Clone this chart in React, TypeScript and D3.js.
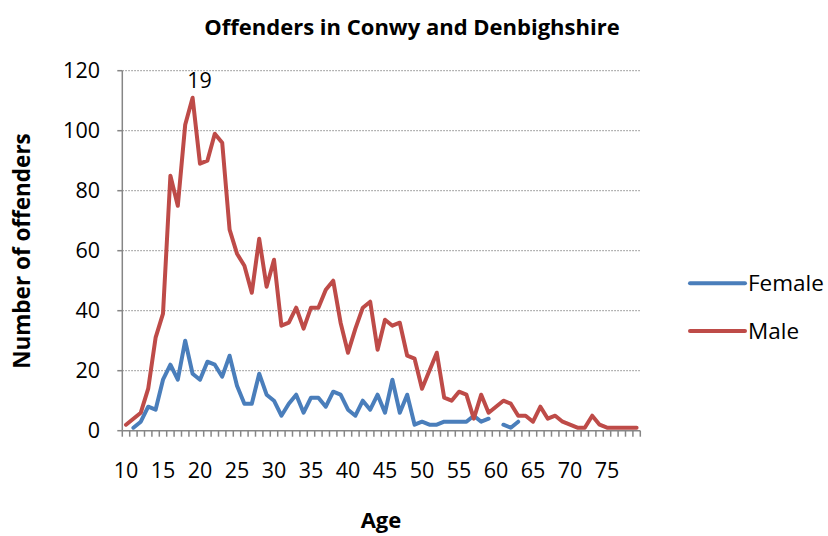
import React from "react";
import * as d3 from "d3";

const ages: number[] = d3.range(10, 80);

const male: number[] = [
  2, 4, 6, 14, 31, 39, 85, 75, 102, 111,
  89, 90, 99, 96, 67, 59, 55, 46, 64, 48,
  57, 35, 36, 41, 34, 41, 41, 47, 50, 36,
  26, 34, 41, 43, 27, 37, 35, 36, 25, 24,
  14, 20, 26, 11, 10, 13, 12, 4, 12, 6,
  8, 10, 9, 5, 5, 3, 8, 4, 5, 3,
  2, 1, 1, 5, 2, 1, 1, 1, 1, 1,
];

const female: (number | null)[] = [
  null, 1, 3, 8, 7, 17, 22, 17, 30, 19,
  17, 23, 22, 18, 25, 15, 9, 9, 19, 12,
  10, 5, 9, 12, 6, 11, 11, 8, 13, 12,
  7, 5, 10, 7, 12, 6, 17, 6, 12, 2,
  3, 2, 2, 3, 3, 3, 3, 5, 3, 4,
  null, 2, 1, 3, null, null, null, null, null, null,
  null, null, null, null, null, null, null, null, null, null,
];

const yTicks: number[] = [0, 20, 40, 60, 80, 100, 120];
const xLabelAges: number[] = [10, 15, 20, 25, 30, 35, 40, 45, 50, 55, 60, 65, 70, 75];
const labelledAge = 19;

const seriesNames = ["Female", "Male"];
const seriesColors = ["#4a7ebb", "#be4b48"];

const FONT = "'Open Sans', 'Liberation Sans', sans-serif";

export default function App() {
  const W = 828, H = 536;
  const left = 122.3, right = 640.3, top = 70.7, bottom = 430.7;
  const x = d3.scaleBand<number>().domain(ages).range([left, right]).padding(0);
  const cx = (a: number) => (x(a) as number) + x.bandwidth() / 2;
  const y = d3.scaleLinear().domain([0, 120]).range([bottom, top]);

  const line = d3
    .line<number | null>()
    .defined((d) => d !== null)
    .x((_, i) => cx(ages[i]))
    .y((d) => y(d as number));

  const series = [female, male];
  const boundaries = d3.range(0, ages.length + 1).map((i) => left + i * x.bandwidth());
  const gray = "#868686";
  const peakIdx = ages.indexOf(labelledAge);

  return (
    <svg width={W} height={H} style={{ position: "absolute", left: 0, top: 0, background: "#fff" }}>
      <text x={412} y={35} textAnchor="middle" fontFamily={FONT} fontWeight="bold" fontSize={22}>
        Offenders in Conwy and Denbighshire
      </text>

      {yTicks.filter((t) => t > 0).map((t) => (
        <line key={"g" + t} x1={left} x2={right} y1={y(t)} y2={y(t)} stroke={gray} strokeWidth={1} strokeDasharray="1.5,1.5" />
      ))}

      <line x1={left} x2={left} y1={top} y2={bottom} stroke={gray} strokeWidth={1.5} />
      {yTicks.map((t) => (
        <line key={"yt" + t} x1={left - 5} x2={left} y1={y(t)} y2={y(t)} stroke={gray} strokeWidth={1.5} />
      ))}
      {yTicks.map((t) => (
        <text key={"yl" + t} x={100} y={y(t)} dy="0.36em" textAnchor="end" fontFamily={FONT} fontSize={21.5}>
          {t}
        </text>
      ))}

      <line x1={left} x2={right} y1={bottom} y2={bottom} stroke={gray} strokeWidth={1.5} />
      {boundaries.map((b, i) => (
        <line key={"xt" + i} x1={b} x2={b} y1={bottom} y2={bottom + 6} stroke={gray} strokeWidth={1.5} />
      ))}
      {xLabelAges.map((a) => (
        <text key={"xl" + a} x={cx(a)} y={478} textAnchor="middle" fontFamily={FONT} fontSize={21.5}>
          {a}
        </text>
      ))}

      {series.map((s, k) => (
        <path
          key={"s" + k}
          d={line(s) || ""}
          fill="none"
          stroke={seriesColors[k]}
          strokeWidth={4}
          strokeLinejoin="round"
          strokeLinecap="round"
        />
      ))}

      <text x={cx(labelledAge) + 7} y={y(male[peakIdx]) - 10} textAnchor="middle" fontFamily={FONT} fontSize={21.5}>
        {labelledAge}
      </text>

      <text
        transform={`translate(30,251) rotate(-90)`}
        textAnchor="middle"
        fontFamily={FONT}
        fontWeight="bold"
        fontSize={22.5}
      >
        Number of offenders
      </text>
      <text x={381} y={528} textAnchor="middle" fontFamily={FONT} fontWeight="bold" fontSize={22}>
        Age
      </text>

      {seriesNames.map((n, k) => {
        const ly = k === 0 ? 283.3 : 331;
        return (
          <g key={"lg" + k}>
            <line x1={690} x2={745} y1={ly} y2={ly} stroke={seriesColors[k]} strokeWidth={4} strokeLinecap="round" />
            <text x={748} y={ly} dy="0.36em" fontFamily={FONT} fontSize={22.5}>
              {n}
            </text>
          </g>
        );
      })}
    </svg>
  );
}
